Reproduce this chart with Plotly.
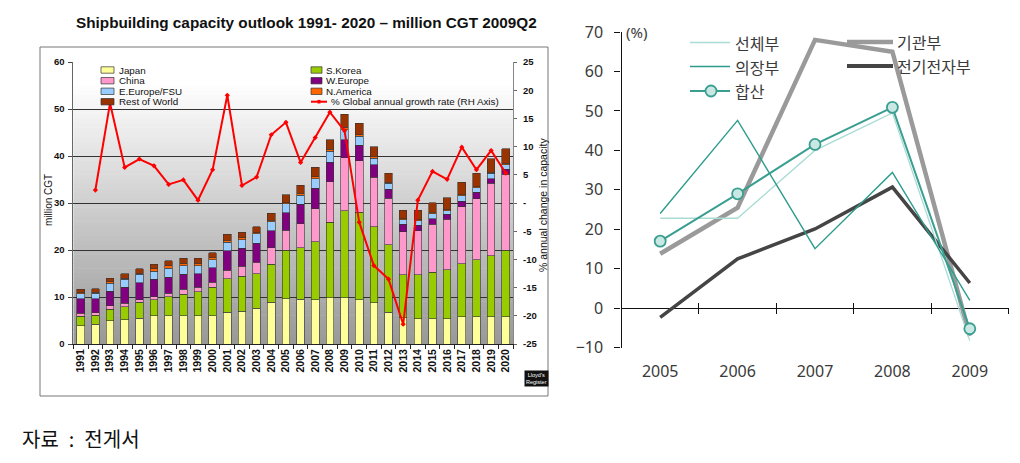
import plotly.graph_objects as go

W, H = 1020, 463
def fx(x): return x / W
def fy(y): return 1 - y / H

# ---------------- Left chart data (million CGT, stacked segments) ----------------
years = [str(y) for y in range(1991, 2021)]
japan    = [3.9, 4.2, 5.0, 5.2, 5.5, 6.0, 6.0, 6.0, 6.0, 6.0, 6.8, 7.0, 7.6, 8.9, 9.6,
            9.5, 9.4, 9.8, 9.8, 9.4, 8.8, 6.8, 5.6, 5.4, 5.4, 5.4, 5.8, 5.8, 5.8, 5.8]
skorea   = [2.0, 1.9, 2.4, 2.7, 3.4, 3.4, 4.1, 4.6, 5.1, 6.1, 7.1, 7.4, 7.3, 8.1, 10.4,
            11.0, 12.4, 16.1, 18.6, 18.6, 16.1, 14.3, 9.1, 9.3, 9.9, 10.4, 11.3, 12.1, 13.0, 14.2]
china    = [0.6, 0.6, 0.7, 0.8, 0.5, 0.7, 0.7, 1.0, 1.0, 1.0, 1.8, 2.1, 2.5, 3.5, 4.2,
            5.1, 7.0, 8.6, 11.2, 11.0, 10.6, 9.9, 9.2, 9.4, 10.2, 10.7, 12.1, 13.0, 15.4, 16.1]
weurope  = [3.1, 2.9, 3.1, 3.4, 3.6, 3.7, 3.4, 3.2, 2.9, 3.1, 4.1, 3.9, 4.0, 3.6, 3.7,
            4.1, 4.3, 4.2, 3.9, 3.3, 2.6, 1.9, 1.6, 1.2, 1.2, 1.1, 1.2, 1.4, 1.0, 1.1]
eeurope  = [1.1, 1.2, 1.7, 1.7, 1.8, 1.7, 1.9, 1.9, 1.7, 1.7, 1.8, 1.8, 2.1, 1.9, 1.9,
            2.0, 2.1, 2.3, 2.1, 1.9, 1.4, 1.3, 0.9, 0.9, 1.0, 0.8, 1.1, 0.9, 1.1, 0.9]
namerica = [0.3, 0.2, 0.3, 0.2, 0.3, 0.5, 0.5, 0.5, 0.5, 0.5, 0.5, 0.4, 0.2, 0.3, 0.3,
            0.4, 0.4, 0.4, 0.5, 0.3, 0.3, 0.2, 0.2, 0.2, 0.3, 0.2, 0.3, 0.3, 0.2, 0.4]
rest     = [0.7, 0.8, 0.8, 1.0, 0.9, 1.0, 1.1, 1.0, 1.0, 1.0, 1.2, 1.2, 1.2, 1.5, 1.7,
            1.7, 2.0, 2.1, 2.8, 2.5, 2.2, 1.9, 1.9, 2.1, 2.1, 2.5, 2.6, 2.8, 2.9, 3.0]
growth   = [None, 2.3, 17.7, 6.3, 7.8, 6.6, 3.3, 4.1, 0.5, 5.9, 19.1, 3.1, 4.6, 12.1, 14.3,
            7.2, 11.6, 16.1, 12.8, -3.4, -11.1, -13.5, -21.5, 0.5, 5.6, 4.2, 9.9, 5.9, 9.3, 5.3]
left_ticks = [0, 10, 20, 30, 40, 50, 60]
right_ticks = [-25, -20, -15, -10, -5, 0, 5, 10, 15, 20, 25]
right_ticktext = ["-25", "-20", "-15", "-10", "-5", "-", "5", "10", "15", "20", "25"]

series = [
    ("Japan", japan, "#ffff99"),
    ("S.Korea", skorea, "#99cc00"),
    ("China", china, "#ff99cc"),
    ("W.Europe", weurope, "#800080"),
    ("E.Europe/FSU", eeurope, "#99ccff"),
    ("N.America", namerica, "#ff6600"),
    ("Rest of World", rest, "#993300"),
]
growth_name = "% Global annual growth rate (RH Axis)"

# ---------------- Right chart data (%) ----------------
r_years = [2005, 2006, 2007, 2008, 2009]
r_ticks = [-10, 0, 10, 20, 30, 40, 50, 60, 70]
hull   = [22.8, 22.8, 40.0, 49.5, -8.2]   # 선체부
engine = [13.8, 25.5, 68.0, 65.0, -7.0]   # 기관부
outfit = [24.0, 47.6, 15.1, 34.4, 2.0]    # 의장부
elec   = [-2.3, 12.5, 20.1, 30.7, 6.4]    # 전기전자부
total  = [17.0, 29.0, 41.5, 50.9, -5.2]   # 합산

C_HULL = "#a9dcd4"
C_ENGINE = "#9a9a9a"
C_OUTFIT = "#2e9c8c"
C_ELEC = "#454545"
C_TOTAL = "#3a9f90"
C_TOTAL_FILL = "#c9e8e3"

fig = go.Figure()

# ---- left chart traces
for name, vals, col in series:
    fig.add_trace(go.Bar(
        x=years, y=vals, name=name, width=0.52,
        marker=dict(color=col, line=dict(color="#333333", width=0.6)),
        xaxis="x", yaxis="y", showlegend=False))
fig.add_trace(go.Scatter(
    x=years, y=growth, name=growth_name, mode="lines+markers",
    line=dict(color="#ff0000", width=2),
    marker=dict(symbol="diamond", size=4, color="#ff0000"),
    xaxis="x", yaxis="y2", showlegend=False))

# ---- right chart traces
fig.add_trace(go.Scatter(x=r_years, y=engine, name="기관부", mode="lines",
                         line=dict(color=C_ENGINE, width=4.5), xaxis="x2", yaxis="y3", showlegend=False))
fig.add_trace(go.Scatter(x=r_years, y=elec, name="전기전자부", mode="lines",
                         line=dict(color=C_ELEC, width=3.5), xaxis="x2", yaxis="y3", showlegend=False))
fig.add_trace(go.Scatter(x=r_years, y=hull, name="선체부", mode="lines",
                         line=dict(color=C_HULL, width=1.3), xaxis="x2", yaxis="y3", showlegend=False))
fig.add_trace(go.Scatter(x=r_years, y=outfit, name="의장부", mode="lines",
                         line=dict(color=C_OUTFIT, width=1.4), xaxis="x2", yaxis="y3", showlegend=False))
fig.add_trace(go.Scatter(x=r_years, y=total, name="합산", mode="lines+markers",
                         line=dict(color=C_TOTAL, width=2),
                         marker=dict(symbol="circle", size=11, color=C_TOTAL_FILL,
                                     line=dict(color=C_TOTAL, width=1.8)),
                         xaxis="x2", yaxis="y3", showlegend=False))
# empty traces that carry the crossing tick axes at y = 0
fig.add_trace(go.Scatter(x=[], y=[], xaxis="x3", yaxis="y3", showlegend=False, hoverinfo="skip"))
fig.add_trace(go.Scatter(x=[], y=[], xaxis="x4", yaxis="y3", showlegend=False, hoverinfo="skip"))

ARIAL = "Arial, Liberation Sans, sans-serif"
KR = "Noto Sans CJK KR, sans-serif"
NUM = "Noto Sans, sans-serif"

L_X0, L_X1 = 73.4, 513.1
L_Y0, L_Y1 = 62, 344
R_X0, R_X1 = 621.5, 1008.5
R_Y0, R_Y1 = 32, 347.7
ZERO_Y = 307.7
boundaries = [2005.5, 2006.5, 2007.5, 2008.5, 2009.5]

fig.update_layout(
    width=W, height=H, margin=dict(l=0, r=0, t=0, b=0), autosize=False,
    template="none", paper_bgcolor="white", plot_bgcolor="rgba(0,0,0,0)",
    barmode="stack", bargap=0.48,
    xaxis=dict(domain=[fx(L_X0), fx(L_X1)], anchor="y", type="category",
               range=[-0.5, len(years) - 0.5],
               tickangle=-90, tickson="boundaries", ticks="outside", ticklen=4,
               tickcolor="#222", showline=True, linecolor="#222", linewidth=1,
               showgrid=False, automargin=False,
               tickfont=dict(family=ARIAL, size=10.5, color="#111", weight="bold")),
    yaxis=dict(domain=[fy(L_Y1), fy(L_Y0)], anchor="x", range=[0, 60],
               tickmode="array", tickvals=left_ticks, ticks="outside", ticklen=4,
               tickcolor="#444", showline=True, linecolor="#666", linewidth=1,
               showgrid=True, gridcolor="#333333", gridwidth=1, zeroline=False,
               automargin=False, ticklabelstandoff=2,
               tickfont=dict(family=ARIAL, size=9.5, color="#111", weight="bold")),
    yaxis2=dict(overlaying="y", side="right", anchor="x", range=[-25, 25],
                tickmode="array", tickvals=right_ticks, ticktext=right_ticktext,
                ticks="outside", ticklen=3, tickcolor="#666",
                showline=True, linecolor="#888", linewidth=1,
                showgrid=False, zeroline=False, automargin=False, ticklabelstandoff=4,
                tickfont=dict(family=ARIAL, size=9.5, color="#111", weight="bold")),
    xaxis2=dict(domain=[fx(R_X0), fx(R_X1)], anchor="y3", range=[2004.5, 2009.5],
                tickmode="array", tickvals=r_years, ticks="", showline=False,
                showgrid=False, zeroline=False, automargin=False, ticklabelstandoff=12,
                tickfont=dict(family=NUM, size=16, color="#3a3a3a")),
    yaxis3=dict(domain=[fy(R_Y1), fy(R_Y0)], anchor="x2", range=[-10, 70],
                tickmode="array", tickvals=r_ticks, ticks="outside", ticklen=6,
                tickcolor="#111", showline=True, linecolor="#111", linewidth=1.3,
                showgrid=False, zeroline=True, zerolinecolor="#111", zerolinewidth=1.3,
                automargin=False, ticklabelstandoff=8,
                tickfont=dict(family=NUM, size=16, color="#3a3a3a")),
    xaxis3=dict(overlaying="x2", anchor="free", position=fy(ZERO_Y), range=[2004.5, 2009.5],
                tickmode="array", tickvals=boundaries,
                ticks="outside", ticklen=5, tickwidth=1.3, tickcolor="#111",
                showline=False, showticklabels=False,
                showgrid=False, zeroline=False, automargin=False),
    xaxis4=dict(overlaying="x2", anchor="free", position=fy(ZERO_Y), range=[2004.5, 2009.5],
                tickmode="array", tickvals=boundaries,
                ticks="inside", ticklen=5, tickwidth=1.3, tickcolor="#111",
                showline=False, showticklabels=False,
                showgrid=False, zeroline=False, automargin=False),
)

shapes = []
annotations = []

# gradient background of left plot area
NB = 60
for i in range(NB):
    t0, t1 = i / NB, (i + 1) / NB
    tm = (t0 + t1) / 2
    g = int(round(0x98 + (0xff - 0x98) * min(1.0, tm * 1.08)))
    col = f"rgb({g},{g},{g})"
    shapes.append(dict(type="rect", xref="x domain", yref="y domain", x0=0, x1=1,
                       y0=t0, y1=t1 + 0.002, fillcolor=col, line=dict(width=0), layer="below"))

# frame around left chart
shapes.append(dict(type="rect", xref="paper", yref="paper", x0=fx(40), x1=fx(548),
                   y0=fy(396), y1=fy(47), line=dict(color="#777", width=1),
                   fillcolor="rgba(0,0,0,0)", layer="below"))

# left title
annotations.append(dict(text="Shipbuilding capacity outlook 1991- 2020 \u2013 million CGT 2009Q2",
                        xref="paper", yref="paper", x=fx(306), y=fy(22), showarrow=False,
                        xanchor="center", yanchor="middle",
                        font=dict(family=ARIAL, size=15.3, color="#111", weight="bold")))
# axis titles
annotations.append(dict(text="million CGT", xref="paper", yref="paper", x=fx(48), y=fy(200),
                        textangle=-90, showarrow=False, xanchor="center", yanchor="middle",
                        font=dict(family=ARIAL, size=10, color="#111")))
annotations.append(dict(text="% annual change in capacity", xref="paper", yref="paper",
                        x=fx(543), y=fy(205), textangle=-90, showarrow=False,
                        xanchor="center", yanchor="middle",
                        font=dict(family=ARIAL, size=10.5, color="#111")))
# logo
annotations.append(dict(text="Lloyd's<br>Register", xref="paper", yref="paper", x=fx(536), y=fy(378),
                        showarrow=False, xanchor="center", yanchor="middle", bgcolor="#111",
                        borderpad=1, font=dict(family=ARIAL, size=5.5, color="white")))

# left legend (manual, two columns)
rows_y = [70, 80.7, 91.3, 101.7]
col1 = [series[0], series[2], series[4], series[6]]
col2 = [series[1], series[3], series[5]]
for (name, _, col), yy in zip(col1, rows_y):
    shapes.append(dict(type="rect", xref="paper", yref="paper", x0=fx(101), x1=fx(114),
                       y0=fy(yy + 3.2), y1=fy(yy - 3.2), fillcolor=col,
                       line=dict(color="#333", width=0.7)))
    annotations.append(dict(text=name, xref="paper", yref="paper", x=fx(116.5), y=fy(yy),
                            showarrow=False, xanchor="left", yanchor="middle",
                            font=dict(family=ARIAL, size=9.8, color="#111")))
for (name, _, col), yy in zip(col2, rows_y[:3]):
    shapes.append(dict(type="rect", xref="paper", yref="paper", x0=fx(311), x1=fx(322),
                       y0=fy(yy + 3.2), y1=fy(yy - 3.2), fillcolor=col,
                       line=dict(color="#333", width=0.7)))
    annotations.append(dict(text=name, xref="paper", yref="paper", x=fx(323.5), y=fy(yy),
                            showarrow=False, xanchor="left", yanchor="middle",
                            font=dict(family=ARIAL, size=9.8, color="#111")))
shapes.append(dict(type="line", xref="paper", yref="paper", x0=fx(311), x1=fx(327),
                   y0=fy(rows_y[3]), y1=fy(rows_y[3]), line=dict(color="#ff0000", width=2)))
shapes.append(dict(type="rect", xref="paper", yref="paper", x0=fx(317.5), x1=fx(320.5),
                   y0=fy(rows_y[3] + 1.8), y1=fy(rows_y[3] - 1.8), fillcolor="#ff0000",
                   line=dict(width=0)))
annotations.append(dict(text=growth_name, xref="paper", yref="paper", x=fx(328.5), y=fy(rows_y[3]),
                        showarrow=False, xanchor="left", yanchor="middle",
                        font=dict(family=ARIAL, size=9.8, color="#111")))

# right chart: (%) label
annotations.append(dict(text="(%)", xref="paper", yref="paper", x=fx(624), y=fy(32),
                        showarrow=False, xanchor="left", yanchor="middle",
                        font=dict(family=NUM, size=15, color="#3a3a3a")))

# right legend (manual)
leg_items = [
    ("선체부", C_HULL, 1.3, 690, 730, 42.5, 733, False),
    ("의장부", C_OUTFIT, 1.4, 690, 730, 66.5, 733, False),
    ("합산", C_TOTAL, 2.0, 690, 730, 91, 733, True),
    ("기관부", C_ENGINE, 4.5, 847, 893, 42, 895, False),
    ("전기전자부", C_ELEC, 4.0, 847, 893, 66, 895, False),
]
for name, col, wdt, x0, x1, yy, tx, mk in leg_items:
    shapes.append(dict(type="line", xref="paper", yref="paper", x0=fx(x0), x1=fx(x1),
                       y0=fy(yy), y1=fy(yy), line=dict(color=col, width=wdt)))
    if mk:
        shapes.append(dict(type="circle", xref="paper", yref="paper", x0=fx(705.5), x1=fx(716.5),
                           y0=fy(yy + 5.5), y1=fy(yy - 5.5), fillcolor=C_TOTAL_FILL,
                           line=dict(color=C_TOTAL, width=1.8)))
    annotations.append(dict(text=name, xref="paper", yref="paper", x=fx(tx), y=fy(yy),
                            showarrow=False, xanchor="left", yanchor="middle",
                            font=dict(family=KR, size=16, color="#3a3a3a")))

# caption
annotations.append(dict(text="자료\u2002:\u2002전게서", xref="paper", yref="paper", x=fx(20), y=fy(438),
                        showarrow=False, xanchor="left", yanchor="middle",
                        font=dict(family=KR, size=20, color="#111")))

fig.update_layout(shapes=shapes, annotations=annotations)
fig.write_html("out.html", config={"displayModeBar": False},
               post_script="document.body.style.margin='0';document.body.style.overflow='hidden';")
